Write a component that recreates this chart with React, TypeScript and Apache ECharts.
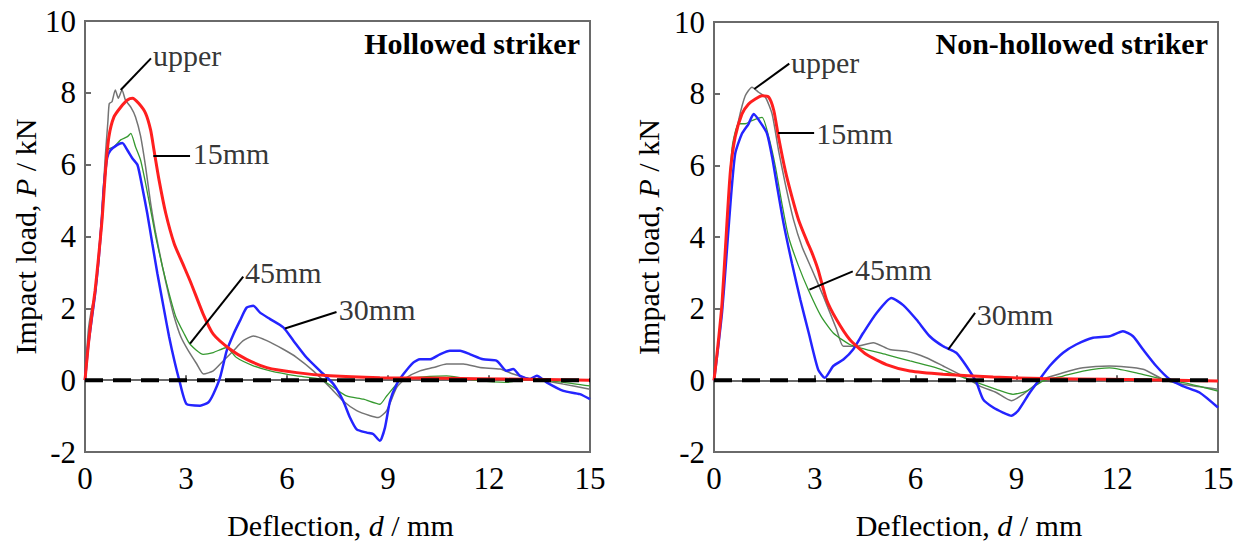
import React, { useEffect, useRef } from "react";
import * as echarts from "echarts";

type P = [number, number];

const xTicks = [0, 3, 6, 9, 12, 15];
const yTicks = [-2, 0, 2, 4, 6, 8, 10];
const panelTitles = ["Hollowed striker", "Non-hollowed striker"];
const seriesNames = ["upper", "45mm", "30mm", "15mm"];

// ---------- Hollowed striker ----------
const hollowUpper: P[] = [
  [0, 0], [0.1, 1.4], [0.2, 2.0], [0.3, 2.4], [0.4, 3.4], [0.5, 4.6], [0.6, 6.2], [0.68, 7.2],
  [0.72, 7.7], [0.8, 7.75], [0.9, 8.08], [0.99, 7.85], [1.1, 8.08], [1.2, 7.8], [1.36, 7.6],
  [1.5, 7.33], [1.65, 6.8], [1.8, 5.94], [1.95, 4.92], [2.1, 4.09], [2.3, 3.16], [2.5, 2.32],
  [2.65, 1.76], [2.85, 1.2], [3.05, 0.85], [3.32, 0.45], [3.52, 0.17], [3.81, 0.26], [4.11, 0.54],
  [4.41, 0.82], [4.7, 1.1], [5.0, 1.23], [5.4, 1.1], [5.89, 0.86], [6.29, 0.63], [6.78, 0.26],
  [7.28, -0.2], [7.67, -0.58], [8.07, -0.85], [8.47, -0.99], [8.71, -1.04], [8.96, -0.85],
  [9.26, -0.2], [9.55, 0.07], [9.95, 0.26], [10.35, 0.35], [10.74, 0.45], [11.24, 0.45],
  [11.73, 0.35], [12.33, 0.31], [12.72, 0.17], [13.22, 0.03], [13.71, -0.02], [14.21, -0.11],
  [15, -0.25],
];
const hollow15: P[] = [
  [0, 0], [0.1, 1.0], [0.2, 1.8], [0.3, 2.5], [0.4, 3.4], [0.51, 4.5], [0.61, 5.85], [0.71, 6.78],
  [0.86, 7.33], [1.06, 7.6], [1.26, 7.8], [1.41, 7.85], [1.6, 7.7], [1.8, 7.43], [1.95, 6.96],
  [2.05, 6.4], [2.2, 5.57], [2.4, 4.64], [2.65, 3.8], [2.9, 3.25], [3.15, 2.7], [3.51, 1.84],
  [3.81, 1.28], [4.31, 0.86], [4.8, 0.58], [5.4, 0.35], [6.29, 0.21], [7.28, 0.12], [8.76, 0.07],
  [10.74, 0.05], [12.5, 0.03], [15, 0.0],
];
const hollow30: P[] = [
  [0, 0], [0.1, 1.0], [0.2, 1.7], [0.3, 2.4], [0.4, 3.3], [0.5, 4.5], [0.56, 5.38], [0.66, 6.2],
  [0.76, 6.4], [0.96, 6.55], [1.11, 6.6], [1.26, 6.4], [1.41, 6.17], [1.56, 5.99], [1.7, 5.38],
  [1.85, 4.64], [2.0, 3.8], [2.15, 2.97], [2.35, 1.95], [2.5, 1.2], [2.65, 0.56], [2.8, 0.0],
  [3.02, -0.67], [3.42, -0.71], [3.66, -0.62], [3.81, -0.39], [4.01, 0.07], [4.21, 0.82],
  [4.41, 1.28], [4.6, 1.65], [4.8, 2.02], [5.0, 2.07], [5.2, 1.88], [5.5, 1.7], [5.89, 1.47],
  [6.19, 1.1], [6.58, 0.63], [6.98, 0.26], [7.38, -0.11], [7.67, -0.58], [7.87, -1.04],
  [8.07, -1.37], [8.37, -1.46], [8.56, -1.5], [8.76, -1.69], [8.91, -1.32], [9.06, -0.58],
  [9.26, -0.11], [9.46, 0.17], [9.75, 0.49], [9.95, 0.58], [10.25, 0.58], [10.54, 0.72],
  [10.84, 0.82], [11.14, 0.82], [11.44, 0.72], [11.83, 0.58], [12.23, 0.54], [12.52, 0.26],
  [12.72, 0.31], [12.92, 0.12], [13.22, 0.03], [13.42, 0.12], [13.71, -0.06], [14.21, -0.3],
  [14.7, -0.39], [15, -0.53],
];
const hollow45: P[] = [
  [0, 0], [0.1, 1.0], [0.2, 1.7], [0.3, 2.4], [0.4, 3.3], [0.5, 4.5], [0.6, 5.6], [0.66, 6.4],
  [0.86, 6.5], [1.06, 6.69], [1.26, 6.78], [1.36, 6.87], [1.5, 6.5], [1.65, 6.13], [1.8, 5.48],
  [1.95, 4.74], [2.1, 4.0], [2.3, 3.16], [2.5, 2.41], [2.7, 1.76], [2.94, 1.3], [3.12, 1.0],
  [3.51, 0.72], [3.81, 0.77], [4.21, 0.91], [4.5, 0.63], [5.0, 0.4], [5.5, 0.26], [6.29, 0.12],
  [6.98, 0.03], [7.38, -0.2], [7.77, -0.44], [8.27, -0.53], [8.76, -0.67], [8.96, -0.44],
  [9.36, -0.02], [9.75, 0.07], [10.74, 0.12], [11.73, -0.02], [12.52, -0.06], [13.22, 0.03],
  [14.21, -0.06], [15, -0.16],
];

// ---------- Non-hollowed striker ----------
const solidUpper: P[] = [
  [0, 0], [0.12, 1.0], [0.24, 2.16], [0.39, 4.47], [0.54, 6.32], [0.73, 7.25], [0.93, 7.94],
  [1.13, 8.18], [1.33, 8.04], [1.53, 7.9], [1.73, 7.43], [1.92, 6.42], [2.12, 5.49], [2.37, 4.47],
  [2.62, 3.73], [2.92, 3.08], [3.23, 2.4], [3.65, 1.42], [3.85, 0.95], [4.24, 0.95], [4.74, 1.05],
  [5.23, 0.86], [5.73, 0.81], [6.32, 0.63], [6.82, 0.4], [7.41, 0.12], [7.91, -0.16], [8.4, -0.34],
  [8.85, -0.57], [9.2, -0.39], [9.79, 0.03], [10.39, 0.21], [10.98, 0.35], [11.77, 0.4],
  [12.77, 0.31], [13.36, 0.03], [13.95, -0.11], [15, -0.25],
];
const solid15: P[] = [
  [0, 0], [0.12, 1.0], [0.24, 2.16], [0.39, 4.47], [0.49, 5.86], [0.63, 6.79], [0.83, 7.43],
  [1.03, 7.71], [1.23, 7.85], [1.43, 7.94], [1.63, 7.9], [1.78, 7.53], [1.92, 6.79], [2.12, 5.86],
  [2.32, 5.12], [2.52, 4.47], [2.76, 3.9], [2.92, 3.55], [3.1, 3.08], [3.35, 2.25], [3.65, 1.69],
  [4.04, 1.14], [4.54, 0.72], [5.13, 0.44], [5.83, 0.26], [6.82, 0.17], [8.31, 0.09], [9.79, 0.05],
  [11.77, 0.03], [15, -0.02],
];
const solid30: P[] = [
  [0, 0], [0.12, 0.9], [0.24, 1.9], [0.34, 3.08], [0.49, 4.94], [0.63, 6.32], [0.83, 6.88],
  [1.03, 7.16], [1.18, 7.43], [1.38, 7.2], [1.58, 6.88], [1.73, 6.23], [1.88, 5.4], [2.07, 4.38],
  [2.32, 3.27], [2.57, 2.25], [2.82, 1.32], [3.1, 0.3], [3.3, 0.07], [3.55, 0.4], [3.85, 0.58],
  [4.14, 0.86], [4.44, 1.32], [4.84, 1.88], [5.28, 2.3], [5.63, 2.1], [6.03, 1.69], [6.42, 1.23],
  [6.82, 0.95], [7.21, 0.77], [7.51, 0.4], [7.81, -0.06], [8.01, -0.53], [8.31, -0.76],
  [8.6, -0.9], [8.85, -0.99], [9.05, -0.85], [9.4, -0.34], [9.69, 0.03], [9.99, 0.4],
  [10.39, 0.77], [10.78, 1.0], [11.28, 1.19], [11.77, 1.23], [12.17, 1.37], [12.47, 1.23],
  [12.77, 0.86], [13.16, 0.4], [13.56, 0.03], [13.95, -0.16], [14.45, -0.34], [15, -0.76],
];
const solid45: P[] = [
  [0, 0], [0.12, 1.0], [0.24, 2.16], [0.39, 4.47], [0.54, 6.5], [0.73, 7.16], [0.93, 7.16],
  [1.13, 7.25], [1.43, 7.34], [1.63, 6.79], [1.83, 5.95], [2.02, 4.94], [2.22, 4.0], [2.52, 3.18],
  [2.82, 2.5], [3.18, 1.8], [3.55, 1.32], [4.04, 1.0], [4.54, 0.86], [5.13, 0.72], [5.83, 0.54],
  [6.62, 0.35], [7.31, 0.12], [7.81, -0.06], [8.4, -0.25], [8.9, -0.39], [9.3, -0.3],
  [9.79, -0.02], [10.39, 0.12], [10.98, 0.26], [11.77, 0.35], [12.57, 0.21], [13.36, 0.03],
  [13.95, -0.06], [15, -0.3],
];

// annotation: leader line from curve point -> label anchor, label text start
type Ann = { text: string; from: P; to: P; at: P };
const hollowAnn: Ann[] = [
  { text: "upper", from: [1.06, 8.08], to: [1.96, 8.96], at: [2.02, 9.05] },
  { text: "15mm", from: [2.03, 6.24], to: [3.12, 6.24], at: [3.2, 6.3] },
  { text: "45mm", from: [3.12, 1.02], to: [4.7, 2.88], at: [4.75, 3.0] },
  { text: "30mm", from: [5.94, 1.44], to: [7.47, 1.9], at: [7.54, 1.96] },
];
const solidAnn: Ann[] = [
  { text: "upper", from: [1.2, 8.13], to: [2.24, 8.84], at: [2.29, 8.86] },
  { text: "15mm", from: [1.91, 6.9], to: [2.98, 6.9], at: [3.04, 6.9] },
  { text: "45mm", from: [2.84, 2.53], to: [4.13, 3.04], at: [4.2, 3.1] },
  { text: "30mm", from: [6.97, 0.86], to: [7.77, 1.88], at: [7.82, 1.83] },
];
const zeroLine: P[] = [[0, 0], [15, 0]];

const FONT = "Liberation Serif, Times New Roman, serif";
const colors = { upper: "#747474", "45mm": "#35992f", "30mm": "#2424ff", "15mm": "#ff1f1f" };
const widths = { upper: 1.5, "45mm": 1.3, "30mm": 2.5, "15mm": 3 };

export default function App() {
  const ref = useRef<HTMLDivElement>(null);
  useEffect(() => {
    if (!ref.current) return;
    const chart = echarts.init(ref.current, undefined, { renderer: "svg" });
    const panels = [
      { curves: [hollowUpper, hollow45, hollow30, hollow15], ann: hollowAnn },
      { curves: [solidUpper, solid45, solid30, solid15], ann: solidAnn },
    ];
    const grids = [
      { left: 85, top: 21, width: 505, height: 431 },
      { left: 714, top: 22, width: 504, height: 430 },
    ];
    const yTitleX = [25, 648];
    const series: any[] = [];
    panels.forEach((p, gi) => {
      p.curves.forEach((d, si) => {
        const name = seriesNames[si] as keyof typeof colors;
        series.push({
          type: "line", name, xAxisIndex: gi, yAxisIndex: gi, data: d, showSymbol: false,
          symbol: "none", smooth: 0.2, lineStyle: { color: colors[name], width: widths[name] }, z: 2 + si,
        });
      });
      series.push({
        type: "line", xAxisIndex: gi, yAxisIndex: gi, data: zeroLine, symbol: "none",
        lineStyle: { color: "#000", width: 4, type: [18, 10] }, z: 10,
      });
      p.ann.forEach((a) => {
        series.push({
          type: "line", xAxisIndex: gi, yAxisIndex: gi, data: [a.from, a.to], symbol: "none",
          lineStyle: { color: "#000", width: 2 }, z: 11,
        });
      });
      series.push({
        type: "scatter", xAxisIndex: gi, yAxisIndex: gi, symbolSize: 0, z: 12,
        data: p.ann.map((a) => ({ value: a.at, name: a.text })),
        label: {
          show: true, position: "right", distance: 0, formatter: (q: any) => q.name,
          fontFamily: FONT, fontSize: 30, color: "#000", verticalAlign: "middle",
        },
      });
    });
    const axisStyle = { lineStyle: { color: "#6a6a6a", width: 2 } };
    const option: any = {
      animation: false,
      backgroundColor: "#fff",
      grid: grids.map((g) => ({ ...g, show: true, borderColor: "#6a6a6a", borderWidth: 2, containLabel: false })),
      xAxis: grids.map((_, i) => ({
        type: "value", gridIndex: i, min: xTicks[0], max: xTicks[xTicks.length - 1], interval: 3,
        axisLine: { show: true, ...axisStyle }, splitLine: { show: false },
        axisTick: { show: true, inside: true, length: 5, ...axisStyle },
        axisLabel: { fontFamily: FONT, fontSize: 31, color: "#000", margin: 11 },
      })),
      yAxis: grids.map((_, i) => ({
        type: "value", gridIndex: i, min: yTicks[0], max: yTicks[yTicks.length - 1], interval: 2,
        axisLine: { show: true, ...axisStyle }, splitLine: { show: false },
        axisTick: { show: true, inside: true, length: 6, ...axisStyle },
        axisLabel: { fontFamily: FONT, fontSize: 31, color: "#000", margin: 9 },
      })),
      series,
      graphic: [
        ...grids.map((g, i) => ({
          type: "text", x: g.left + g.width - 10, y: 43,
          style: { text: panelTitles[i], fontFamily: FONT, fontSize: 30, fontWeight: "bold", fill: "#000", align: "right", verticalAlign: "middle" },
        })),
        ...grids.map((g) => ({
          type: "text", x: g.left + g.width / 2 + 3, y: 525,
          style: {
            text: "Deflection, {i|d} / mm", fontFamily: FONT, fontSize: 30, fill: "#000", align: "center", verticalAlign: "middle",
            rich: { i: { fontFamily: FONT, fontSize: 30, fontStyle: "italic", fill: "#000" } },
          },
        })),
        ...grids.map((g, i) => ({
          type: "text", x: yTitleX[i], y: g.top + g.height / 2, rotation: Math.PI / 2,
          style: {
            text: "Impact load, {i|P} / kN", fontFamily: FONT, fontSize: 30, fill: "#000", align: "center", verticalAlign: "middle",
            rich: { i: { fontFamily: FONT, fontSize: 30, fontStyle: "italic", fill: "#000" } },
          },
        })),
      ],
    };
    chart.setOption(option);
    return () => chart.dispose();
  }, []);
  return <div ref={ref} style={{ position: "absolute", left: 0, top: 0, width: 1241, height: 543 }} />;
}
